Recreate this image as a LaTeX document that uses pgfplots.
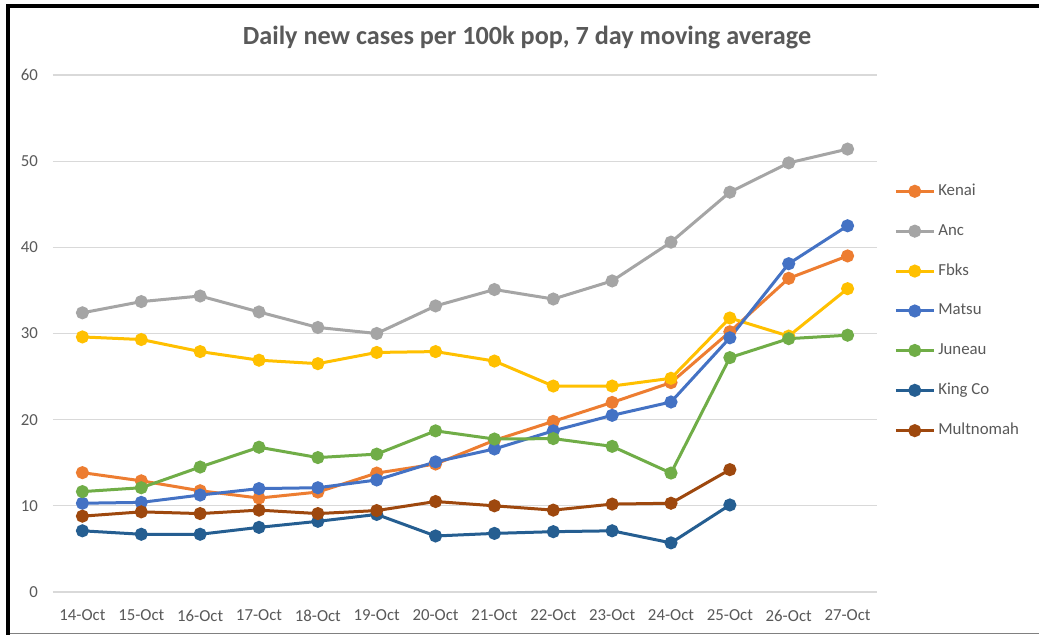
\documentclass[border=0pt]{standalone}
\usepackage{pgfplots}
\pgfplotsset{compat=1.18}
\usepackage{fontspec}
\setmainfont{Carlito}
\definecolor{cKenai}{HTML}{ED7D31}
\definecolor{cAnc}{HTML}{A5A5A5}
\definecolor{cFbks}{HTML}{FFC000}
\definecolor{cMatsu}{HTML}{4472C4}
\definecolor{cJuneau}{HTML}{70AD47}
\definecolor{cKing}{HTML}{255E91}
\definecolor{cMult}{HTML}{9E480E}
\definecolor{labgray}{HTML}{595959}
\definecolor{gridgray}{HTML}{D9D9D9}
\begin{document}
\begin{tikzpicture}
\useasboundingbox (0,0) rectangle (519.5pt,317.5pt);
\fill[white] (0,0) rectangle (519.5pt,317.5pt);
\draw[black!50, line width=0.6pt] (4pt,0.8pt) -- (519.5pt,0.8pt);
\draw[black, line width=2pt] (4pt,0) -- (4pt,315.5pt);
\draw[black, line width=2pt] (3pt,314.5pt) -- (519.5pt,314.5pt);
\node[font=\bfseries\fontsize{13.1}{15}\selectfont, text=labgray] at (263.5pt,298.5pt) {Daily new cases per 100k pop, 7 day moving average};
\begin{axis}[
  at={(26.5pt,21.5pt)}, anchor=south west,
  scale only axis, width=412pt, height=258.5pt,
  xmin=-0.5, xmax=13.5, ymin=0, ymax=60,
  ytick={0,10,...,60},
  xtick={0,...,13},
  xticklabels={14-Oct,15-Oct,16-Oct,17-Oct,18-Oct,19-Oct,20-Oct,21-Oct,22-Oct,23-Oct,24-Oct,25-Oct,26-Oct,27-Oct},
  axis line style={draw=none},
  ymajorgrids,
  grid style={color=gridgray, line width=0.6pt},
  major tick length=0pt,
  tick label style={font=\fontsize{8.4}{10}\selectfont, text=labgray},
  /pgf/number format/assume math mode=true,
  yticklabel style={xshift=-4pt},
  xticklabel style={yshift=-5.5pt},
  clip=false,
  every axis plot/.append style={line width=1.5pt, mark=*, mark size=2.5pt},
  legend style={draw=none, fill=none, at={(1.0205,0.5435)}, anchor=west,
    font=\fontsize{8.4}{10}\selectfont, text=labgray, row sep=9.85pt, inner sep=0pt,
    nodes={inner sep=1.5pt}},
  legend cell align=left,
  legend image code/.code={\draw[mark repeat=2,mark phase=2,#1] plot coordinates {(0pt,0pt) (9.5pt,0pt) (19pt,0pt)};},
]
\addplot[color=cKenai, mark options={solid, fill=cKenai}] coordinates {
(0,13.85) (1,12.9) (2,11.75) (3,10.9) (4,11.6) (5,13.8) (6,14.85) (7,17.6) (8,19.8) (9,22.0) (10,24.3) (11,30.2) (12,36.4) (13,39.0)};
\addlegendentry{Kenai}
\addplot[color=cAnc, mark options={solid, fill=cAnc}] coordinates {
(0,32.4) (1,33.7) (2,34.35) (3,32.5) (4,30.7) (5,30.0) (6,33.2) (7,35.1) (8,34.0) (9,36.1) (10,40.6) (11,46.4) (12,49.8) (13,51.4)};
\addlegendentry{Anc}
\addplot[color=cFbks, mark options={solid, fill=cFbks}] coordinates {
(0,29.6) (1,29.3) (2,27.9) (3,26.9) (4,26.5) (5,27.8) (6,27.9) (7,26.8) (8,23.9) (9,23.9) (10,24.8) (11,31.8) (12,29.7) (13,35.2)};
\addlegendentry{Fbks}
\addplot[color=cMatsu, mark options={solid, fill=cMatsu}] coordinates {
(0,10.3) (1,10.4) (2,11.25) (3,12.0) (4,12.1) (5,13.0) (6,15.1) (7,16.6) (8,18.7) (9,20.5) (10,22.05) (11,29.5) (12,38.1) (13,42.5)};
\addlegendentry{Matsu}
\addplot[color=cJuneau, mark options={solid, fill=cJuneau}] coordinates {
(0,11.65) (1,12.1) (2,14.5) (3,16.8) (4,15.6) (5,16.0) (6,18.7) (7,17.75) (8,17.8) (9,16.9) (10,13.8) (11,27.2) (12,29.4) (13,29.8)};
\addlegendentry{Juneau}
\addplot[color=cKing, mark options={solid, fill=cKing}] coordinates {
(0,7.1) (1,6.7) (2,6.7) (3,7.5) (4,8.2) (5,9.0) (6,6.5) (7,6.8) (8,7.0) (9,7.1) (10,5.7) (11,10.1)};
\addlegendentry{King Co}
\addplot[color=cMult, mark options={solid, fill=cMult}] coordinates {
(0,8.8) (1,9.3) (2,9.1) (3,9.5) (4,9.1) (5,9.45) (6,10.5) (7,10.0) (8,9.5) (9,10.2) (10,10.3) (11,14.2)};
\addlegendentry{Multnomah}
\end{axis}
\end{tikzpicture}
\end{document}
